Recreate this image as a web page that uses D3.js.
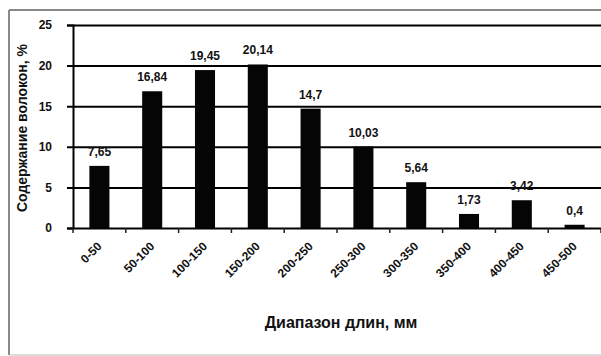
<!DOCTYPE html>
<html>
<head>
  <meta charset="utf-8">
  <script src="https://cdn.jsdelivr.net/npm/d3@7"></script>
</head>
<body style="margin:0">
<script>
  var categories=["0-50","50-100","100-150","150-200","200-250","250-300","300-350","350-400","400-450","450-500"];
  var values=[7.65,16.84,19.45,20.14,14.7,10.03,5.64,1.73,3.42,0.4];
  var labels=["7,65","16,84","19,45","20,14","14,7","10,03","5,64","1,73","3,42","0,4"];
  var yTicks=[0,5,10,15,20,25];

  var W=601,H=356;
  var margin={left:73,right:0,top:25,bottom:128};
  var font="'Liberation Sans',Arial,sans-serif";

  var svg=d3.select("body").append("svg")
    .attr("width",W)
    .attr("height",H);

  // outer frame (left, top, bottom edges)
  svg.append("line").attr("x1",9).attr("x2",9).attr("y1",10).attr("y2",355)
    .attr("stroke","#888").attr("stroke-width",2);
  svg.append("line").attr("x1",9).attr("x2",W).attr("y1",10).attr("y2",10)
    .attr("stroke","#888").attr("stroke-width",2);
  svg.append("line").attr("x1",9).attr("x2",W).attr("y1",355).attr("y2",355)
    .attr("stroke","#bbb").attr("stroke-width",1);

  var xScale=d3.scaleBand()
    .domain(categories)
    .range([margin.left,W-margin.right])
    .paddingInner(0.62)
    .paddingOuter(0.31);

  var yScale=d3.scaleLinear()
    .domain([0,25])
    .range([H-margin.bottom,margin.top]);

  // gridlines + y axis through d3's own axis
  var gy=svg.append("g")
    .attr("transform","translate("+margin.left+",0)")
    .call(d3.axisLeft(yScale).tickValues(yTicks).tickSize(6).tickPadding(15));
  gy.selectAll(".tick line")
    .attr("x1",-6)
    .attr("x2",W-margin.left)
    .attr("stroke","#000")
    .attr("stroke-width",2);
  gy.select(".domain")
    .attr("stroke","#000")
    .attr("stroke-width",2);
  gy.selectAll(".tick text")
    .attr("font-family",font)
    .attr("font-weight","bold")
    .attr("font-size",12)
    .attr("fill","#111");

  // bars
  svg.append("g")
    .selectAll("rect")
    .data(values)
    .enter()
    .append("rect")
    .attr("x",function(d,i){return xScale(categories[i]);})
    .attr("y",function(d){return yScale(d);})
    .attr("width",xScale.bandwidth())
    .attr("height",function(d){return yScale(0)-yScale(d);})
    .attr("fill","#050505");

  // value labels
  svg.append("g")
    .selectAll("text")
    .data(values)
    .enter()
    .append("text")
    .attr("x",function(d,i){return xScale(categories[i])+xScale.bandwidth()/2;})
    .attr("y",function(d){return yScale(d)-10;})
    .attr("text-anchor","middle")
    .attr("font-family",font)
    .attr("font-weight","bold")
    .attr("font-size",12)
    .attr("fill","#111")
    .text(function(d,i){return labels[i];});

  // x axis tick marks at band edges
  var step=xScale.step();
  var edges=d3.range(categories.length+1).map(function(i){return margin.left+i*step;});
  svg.append("g")
    .selectAll("line")
    .data(edges)
    .enter()
    .append("line")
    .attr("x1",function(d){return d;})
    .attr("x2",function(d){return d;})
    .attr("y1",yScale(0))
    .attr("y2",yScale(0)+5)
    .attr("stroke","#222")
    .attr("stroke-width",1.5);

  // x tick labels
  svg.append("g")
    .selectAll("text")
    .data(categories)
    .enter()
    .append("text")
    .attr("transform",function(d){
      return "translate("+(xScale(d)+xScale.bandwidth()/2+3)+","+(yScale(0)+19)+") rotate(-45)";
    })
    .attr("text-anchor","end")
    .attr("font-family",font)
    .attr("font-weight","bold")
    .attr("font-size",12)
    .attr("fill","#111")
    .text(function(d){return d;});

  // axis titles
  svg.append("text")
    .attr("x",341)
    .attr("y",328)
    .attr("text-anchor","middle")
    .attr("font-family",font)
    .attr("font-weight","bold")
    .attr("font-size",16)
    .attr("fill","#111")
    .text("Диапазон длин, мм");

  svg.append("text")
    .attr("transform","translate(27,128) rotate(-90)")
    .attr("text-anchor","middle")
    .attr("font-family",font)
    .attr("font-weight","bold")
    .attr("font-size",14)
    .attr("fill","#111")
    .text("Содержание волокон, %");
</script>
</body>
</html>
